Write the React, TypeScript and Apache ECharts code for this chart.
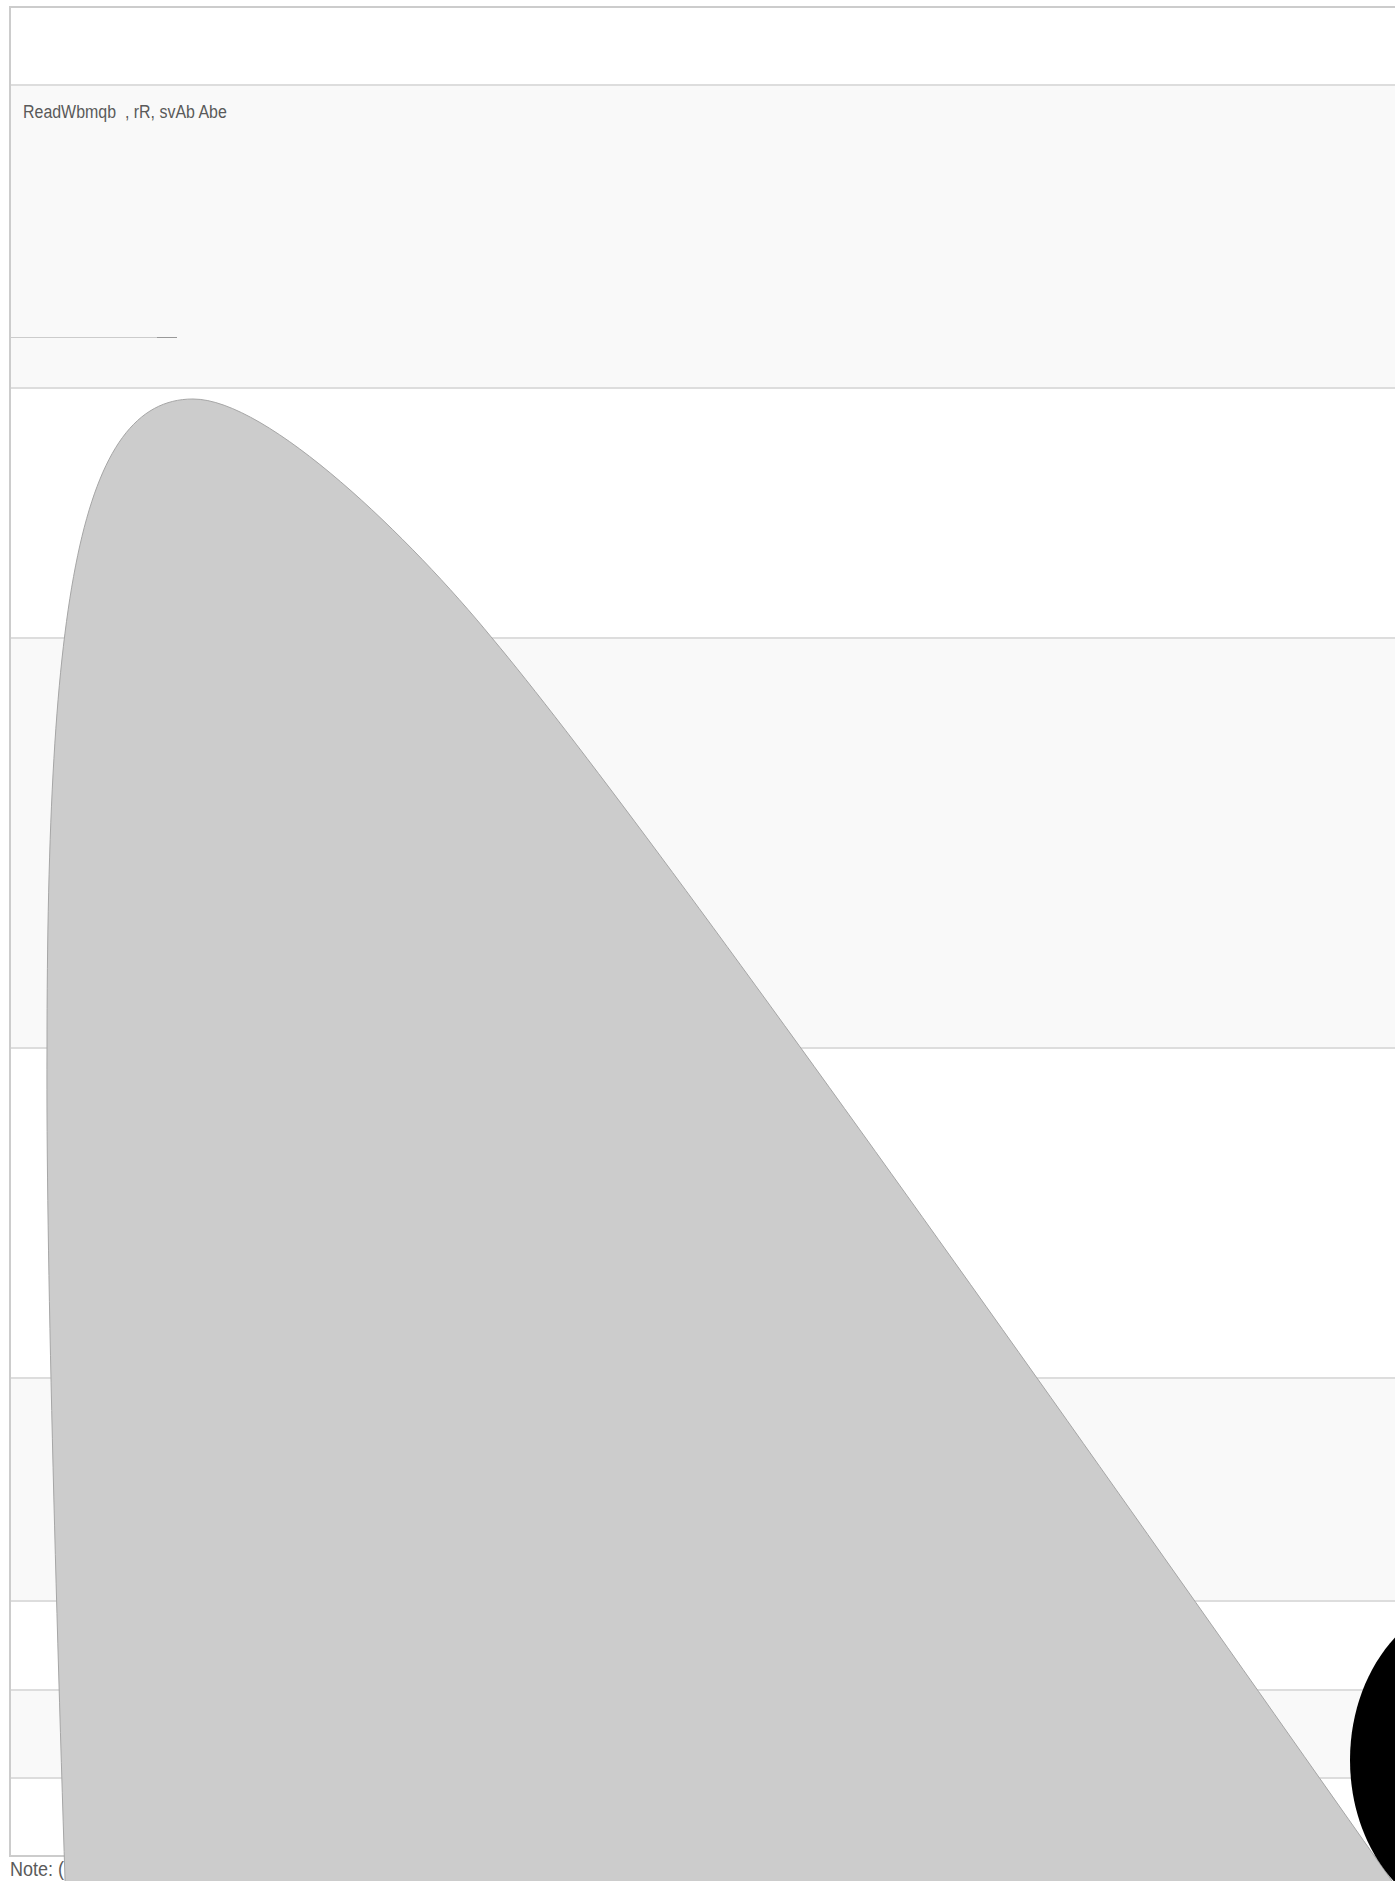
import React, { useEffect, useRef } from "react";
import * as echarts from "echarts";

// Page extent (value space = pixel space of the original page)
const X_MAX = 1395;
const Y_MAX = 1881;

// Table row boundaries (top of each row, last = bottom border)
const rowEdges = [7, 85, 388, 638, 1048, 1378, 1601, 1690, 1778, 1856];

// Texts
const headerText = "ReadWbmqb  , rR, svAb Abe";
const noteText = "Note: (";

// Grey overlay outline as cubic segments: start point, then [c1x,c1y,c2x,c2y,x,y] per segment
const shapeStart = [66, 1910];
const shapeSegments = [
  [56, 1600, 46, 1250, 47, 1050],
  [47, 600, 80, 399, 193, 399],
  [268, 399, 412, 540, 492, 638],
  [656, 834, 1092, 1455, 1392, 1881],
  [1398, 1890, 1406, 1900, 1412, 1910],
];

// Black blob (centre and radii)
const blobCenter = [1480, 1760];
const blobRadii = [130, 162];

export default function App() {
  const ref = useRef<HTMLDivElement>(null);

  useEffect(() => {
    if (!ref.current) return;
    const chart = echarts.init(ref.current, null, { renderer: "svg" });

    const rows = rowEdges.slice(0, -1).map((y0, i) => [y0, rowEdges[i + 1], i]);

    const option: any = {
      animation: false,
      backgroundColor: "#ffffff",
      grid: { left: 0, right: 0, top: 0, bottom: 0 },
      xAxis: { type: "value", min: 0, max: X_MAX, show: false },
      yAxis: { type: "value", min: 0, max: Y_MAX, inverse: true, show: false },
      series: [
        {
          type: "custom",
          z: 1,
          clip: false,
          silent: true,
          data: rows,
          encode: { x: -1, y: [0, 1] },
          renderItem: (params: any, api: any) => {
            const y0 = api.value(0);
            const y1 = api.value(1);
            const idx = api.value(2);
            const p0 = api.coord([10, y0]);
            const p1 = api.coord([X_MAX, y1]);
            return {
              type: "group",
              children: [
                {
                  type: "rect",
                  shape: { x: p0[0], y: p0[1], width: p1[0] - p0[0], height: p1[1] - p0[1] },
                  style: { fill: idx % 2 === 1 ? "#f9f9f9" : "#ffffff" },
                },
                {
                  type: "line",
                  shape: { x1: p0[0], y1: p0[1], x2: p1[0], y2: p0[1] },
                  style: { stroke: idx === 0 ? "#cccccc" : "#dddddd", lineWidth: 2 },
                },
              ],
            };
          },
        },
        {
          type: "custom",
          z: 2,
          clip: false,
          silent: true,
          data: [[rowEdges[0], rowEdges[rowEdges.length - 1]]],
          encode: { x: -1, y: [0, 1] },
          renderItem: (params: any, api: any) => {
            const top = api.coord([10, api.value(0)]);
            const bottom = api.coord([10, api.value(1)]);
            const bottomRight = api.coord([X_MAX, api.value(1)]);
            return {
              type: "group",
              children: [
                {
                  type: "line",
                  shape: { x1: top[0], y1: top[1] - 1, x2: bottom[0], y2: bottom[1] + 1 },
                  style: { stroke: "#cccccc", lineWidth: 2 },
                },
                {
                  type: "line",
                  shape: { x1: bottom[0], y1: bottom[1], x2: bottomRight[0], y2: bottomRight[1] },
                  style: { stroke: "#cccccc", lineWidth: 2 },
                },
              ],
            };
          },
        },
        {
          type: "custom",
          z: 5,
          clip: false,
          silent: true,
          data: [shapeStart],
          renderItem: (params: any, api: any) => {
            const s = api.coord(shapeStart);
            let d = `M${s[0]},${s[1]}`;
            shapeSegments.forEach((seg) => {
              const c1 = api.coord([seg[0], seg[1]]);
              const c2 = api.coord([seg[2], seg[3]]);
              const e = api.coord([seg[4], seg[5]]);
              d += ` C${c1[0]},${c1[1]} ${c2[0]},${c2[1]} ${e[0]},${e[1]}`;
            });
            d += " Z";
            return {
              type: "path",
              shape: { pathData: d },
              style: { fill: "#cccccc", stroke: "#a6a6a6", lineWidth: 1 },
            };
          },
        },
        {
          type: "custom",
          z: 6,
          clip: false,
          silent: true,
          data: [blobCenter],
          renderItem: (params: any, api: any) => {
            const c = api.coord([api.value(0), api.value(1)]);
            const s = api.size(blobRadii);
            return {
              type: "ellipse",
              shape: { cx: c[0], cy: c[1], rx: s[0], ry: s[1] },
              style: { fill: "#000000" },
            };
          },
        },
      ],
      graphic: [
        {
          type: "text",
          z: 3,
          x: 23,
          y: 102,
          scaleX: 0.84,
          style: {
            text: headerText,
            fill: "#5a5a5a",
            font: "19px 'Liberation Sans', Arial, sans-serif",
            textVerticalAlign: "top",
          },
        },
        {
          type: "line",
          z: 3,
          shape: { x1: 10, y1: 337.5, x2: 157, y2: 337.5 },
          style: { stroke: "#cccccc", lineWidth: 1 },
        },
        {
          type: "line",
          z: 3,
          shape: { x1: 157, y1: 337.5, x2: 177, y2: 337.5 },
          style: { stroke: "#999999", lineWidth: 1 },
        },
        {
          type: "text",
          z: 3,
          x: 10,
          y: 1859,
          scaleX: 0.9,
          style: {
            text: noteText,
            fill: "#5a5a5a",
            font: "20px 'Liberation Sans', Arial, sans-serif",
            textVerticalAlign: "top",
          },
        },
      ],
    };

    chart.setOption(option);
    return () => chart.dispose();
  }, []);

  return (
    <div
      ref={ref}
      style={{ position: "fixed", left: 0, top: 0, width: X_MAX, height: Y_MAX }}
    />
  );
}
